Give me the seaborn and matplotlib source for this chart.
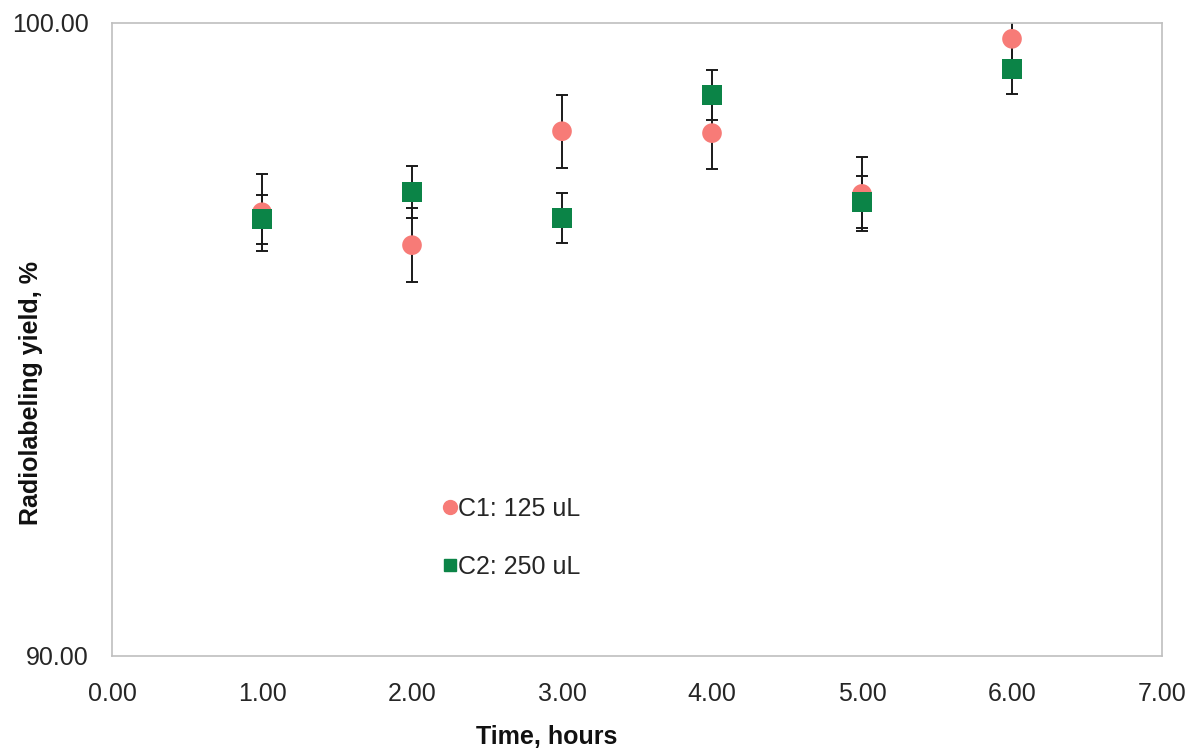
import pandas as pd
import matplotlib.pyplot as plt
import seaborn as sns
from matplotlib.lines import Line2D

# values
time_h = [1.0, 2.0, 3.0, 4.0, 5.0, 6.0]
c1_yield = [97.01, 96.49, 98.29, 98.26, 97.30, 99.75]
c1_err = [0.61, 0.58, 0.58, 0.57, 0.58, 0.58]
c2_yield = [96.90, 97.33, 96.92, 98.86, 97.17, 99.27]
c2_err = [0.39, 0.41, 0.39, 0.39, 0.41, 0.39]
series_names = ["C1: 125 uL", "C2: 250 uL"]
x_ticks = [0, 1, 2, 3, 4, 5, 6, 7]
y_ticks = [90, 100]

pink = "#F77B77"
green = "#0B8447"
grid_gray = "#BFBFBF"

sns.set_theme(style="white")
plt.rcParams["font.family"] = ["Liberation Sans", "DejaVu Sans"]

df = pd.DataFrame({
    "time": time_h * 2,
    "yield": c1_yield + c2_yield,
    "err": c1_err + c2_err,
    "series": [series_names[0]] * 6 + [series_names[1]] * 6,
})

fig = plt.figure(figsize=(11.89, 7.49), dpi=100)
ax = fig.add_axes([0.0942, 0.1242, 0.8831, 0.8451])

# error bars sit under the markers
for name in series_names:
    sub = df[df["series"] == name]
    ax.errorbar(sub["time"], sub["yield"], yerr=sub["err"], fmt="none",
                ecolor="#1a1a1a", elinewidth=1.4, capsize=4.5, capthick=1.4,
                zorder=2)

sns.scatterplot(data=df, x="time", y="yield", hue="series", style="series",
                hue_order=series_names, style_order=series_names,
                palette=[pink, green], markers=["o", "s"], s=200,
                linewidth=0, legend=False, ax=ax, zorder=3)

ax.set_xlim(0, 7)
ax.set_ylim(90, 100)
ax.set_xticks(x_ticks)
ax.set_yticks(y_ticks)
ax.set_xticklabels([f"{v:.2f}" for v in x_ticks])
ax.set_yticklabels([f"{v:.2f}" for v in y_ticks])
ax.tick_params(axis="both", labelsize=18, colors="#262626", direction="out",
               width=1)
ax.tick_params(axis="x", length=4, pad=15)
ax.tick_params(axis="y", length=5, pad=12)
ax.tick_params(axis="both", color=grid_gray)
for sp in ax.spines.values():
    sp.set_color(grid_gray)
    sp.set_linewidth(1.2)

ax.set_xlabel("Time, hours", fontsize=18, fontweight="bold", color="#111111")
ax.set_ylabel("Radiolabeling yield, %", fontsize=18, fontweight="bold",
              color="#111111")
ax.xaxis.set_label_coords(0.414, -0.109)
ax.yaxis.set_label_coords(-0.066, 0.415)

handles = [
    Line2D([], [], marker="o", color=pink, linestyle="none", markersize=10),
    Line2D([], [], marker="s", color=green, linestyle="none", markersize=9),
]
ax.legend(handles, series_names, loc="center left",
          bbox_to_anchor=(0.293, 0.186), frameon=False, fontsize=18,
          handletextpad=0.0, handlelength=0.64, labelspacing=1.36)

fig.savefig("out.png", dpi=100)
plt.close(fig)
